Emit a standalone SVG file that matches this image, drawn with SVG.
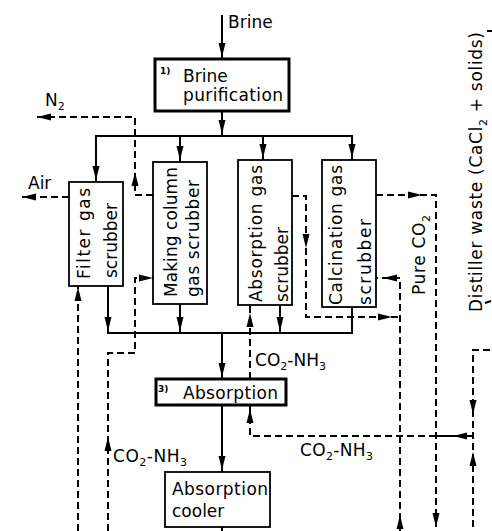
<svg xmlns="http://www.w3.org/2000/svg" xmlns:xlink="http://www.w3.org/1999/xlink" width="492" height="531" viewBox="0 0 492 531">
<style>
.bg{fill:#fff}
.s{fill:none;stroke:#000;stroke-width:2}
.d{fill:none;stroke:#000;stroke-width:2;stroke-dasharray:7 4}
.box{fill:#fff;stroke:#000;stroke-width:1.8}
.pbox{fill:#fff;stroke:#000;stroke-width:3}
text{font-family:"DejaVu Sans","Liberation Sans",sans-serif;font-size:17px;fill:#000}
.sm{font-size:11px}
.tag{font-size:9px;font-weight:bold}
.ah{fill:#000}
</style>
<defs>
<path id="ah" class="ah" d="M0,0 L-3.5,-14 L3.5,-14 Z"/>
</defs>
<rect class="bg" x="0" y="0" width="492" height="531"/>
<g id="connectors">
  <path class="s" d="M222,15 V59"/>
  <use href="#ah" transform="translate(222,57)"/>
  <path class="s" d="M222,111 V136"/>
  <use href="#ah" transform="translate(222,134)"/>
  <path class="s" d="M96,182 V136 H352 V160"/>
  <use href="#ah" transform="translate(96,180)"/>
  <path class="s" d="M180,136 V162"/>
  <use href="#ah" transform="translate(180,160)"/>
  <path class="s" d="M263,136 V160"/>
  <use href="#ah" transform="translate(263,158)"/>
  <use href="#ah" transform="translate(352,158)"/>
  <path class="d" d="M153,195 H135 V117 H37"/>
  <use href="#ah" transform="translate(37,117) rotate(90)"/>
  <use href="#ah" transform="translate(135,172) rotate(180)"/>
  <path class="d" d="M69,197 H22"/>
  <use href="#ah" transform="translate(22,197) rotate(90)"/>
  <path class="d" d="M78,531 V286"/>
  <use href="#ah" transform="translate(78,287) rotate(180)"/>
  <path class="s" d="M108,286 V333 H352 V307"/>
  <use href="#ah" transform="translate(108,331)"/>
  <path class="s" d="M180,304 V333"/>
  <use href="#ah" transform="translate(180,331)"/>
  <path class="s" d="M280,305 V333"/>
  <use href="#ah" transform="translate(280,331)"/>
  <path class="s" d="M222,333 V379"/>
  <use href="#ah" transform="translate(222,377)"/>
  <path class="d" d="M250,379 V305"/>
  <use href="#ah" transform="translate(250,313) rotate(180)"/>
  <path class="d" d="M108,531 V353 H135 V278 H153"/>
  <use href="#ah" transform="translate(153,278) rotate(-90)"/>
  <use href="#ah" transform="translate(108,437) rotate(180)"/>
  <path class="s" d="M222,405 V472"/>
  <use href="#ah" transform="translate(222,470)"/>
  <path class="s" d="M222,527 V531"/>
  <path class="d" d="M436,436 H250 V405"/>
  <use href="#ah" transform="translate(250,409) rotate(180)"/>
  <path class="s" d="M436,436 H473"/>
  <use href="#ah" transform="translate(453,436) rotate(90)"/>
  <path class="d" d="M490,350 H473 V531"/>
  <use href="#ah" transform="translate(473,414)"/>
  <use href="#ah" transform="translate(473,452) rotate(180)"/>
  <path class="d" d="M400,531 V278 H377"/>
  <use href="#ah" transform="translate(400,515) rotate(180)"/>
  <use href="#ah" transform="translate(383,278) rotate(90)"/>
  <path class="d" d="M292,196 H306 V317 H400"/>
  <use href="#ah" transform="translate(306,248)"/>
  <use href="#ah" transform="translate(392,317) rotate(-90)"/>
  <path class="d" d="M376,195 H436 V531"/>
  <use href="#ah" transform="translate(422,195) rotate(-90)"/>
  <use href="#ah" transform="translate(436,527)"/>
  <path class="s" d="M485,303 L491,301"/>
  <path class="s" d="M487,31 H492"/>
</g>
<g id="labels">
  <text x="228" y="28">Brine</text>
  <text x="45" y="106">N<tspan class="sm" dy="4">2</tspan></text>
  <text x="28" y="189">Air</text>
  <text x="255" y="366" textLength="71">CO<tspan class="sm" dy="4">2</tspan><tspan dy="-4">-NH</tspan><tspan class="sm" dy="4">3</tspan></text>
  <text x="300" y="456" textLength="73">CO<tspan class="sm" dy="4">2</tspan><tspan dy="-4">-NH</tspan><tspan class="sm" dy="4">3</tspan></text>
  <text x="113" y="462" textLength="74">CO<tspan class="sm" dy="4">2</tspan><tspan dy="-4">-NH</tspan><tspan class="sm" dy="4">3</tspan></text>
  <text transform="translate(425,295) rotate(-90)" textLength="80">Pure CO<tspan class="sm" dy="5">2</tspan></text>
  <text transform="translate(482,312) rotate(-90)" textLength="280">Distiller waste (CaCl<tspan class="sm" dy="5">2</tspan><tspan dy="-5"> + solids)</tspan></text>
</g>
<g id="brine_purification">
  <rect class="pbox" x="155" y="59" width="134" height="52"/>
  <text class="tag" x="160" y="74">1)</text>
  <text x="183" y="82">Brine</text>
  <text x="183" y="101" textLength="100">purification</text>
</g>
<g id="filter_gas_scrubber">
  <rect class="box" x="69" y="182" width="54" height="104"/>
  <text transform="translate(90,279) rotate(-90)" textLength="91">Filter gas</text>
  <text transform="translate(117,278) rotate(-90)" textLength="75">scrubber</text>
</g>
<g id="making_column_gas_scrubber">
  <rect class="box" x="153" y="162" width="54" height="142"/>
  <text transform="translate(177,297) rotate(-90)" textLength="130">Making column</text>
  <text transform="translate(199,297) rotate(-90)" textLength="117">gas scrubber</text>
</g>
<g id="absorption_gas_scrubber">
  <rect class="box" x="238" y="160" width="54" height="145"/>
  <text transform="translate(262,302) rotate(-90)" textLength="137">Absorption gas</text>
  <text transform="translate(288,302) rotate(-90)" textLength="75">scrubber</text>
</g>
<g id="calcination_gas_scrubber">
  <rect class="box" x="322" y="160" width="54" height="147"/>
  <text transform="translate(342,305) rotate(-90)" textLength="140">Calcination gas</text>
  <text transform="translate(371,305) rotate(-90)" textLength="86">scrubber</text>
</g>
<g id="absorption">
  <rect class="pbox" x="156" y="379" width="130" height="26"/>
  <text class="tag" x="158" y="392">3)</text>
  <text x="183" y="399" textLength="95">Absorption</text>
</g>
<g id="absorption_cooler">
  <rect class="box" x="165" y="472" width="105" height="55"/>
  <text x="172" y="495" textLength="96">Absorption</text>
  <text x="172" y="517">cooler</text>
</g>
</svg>
